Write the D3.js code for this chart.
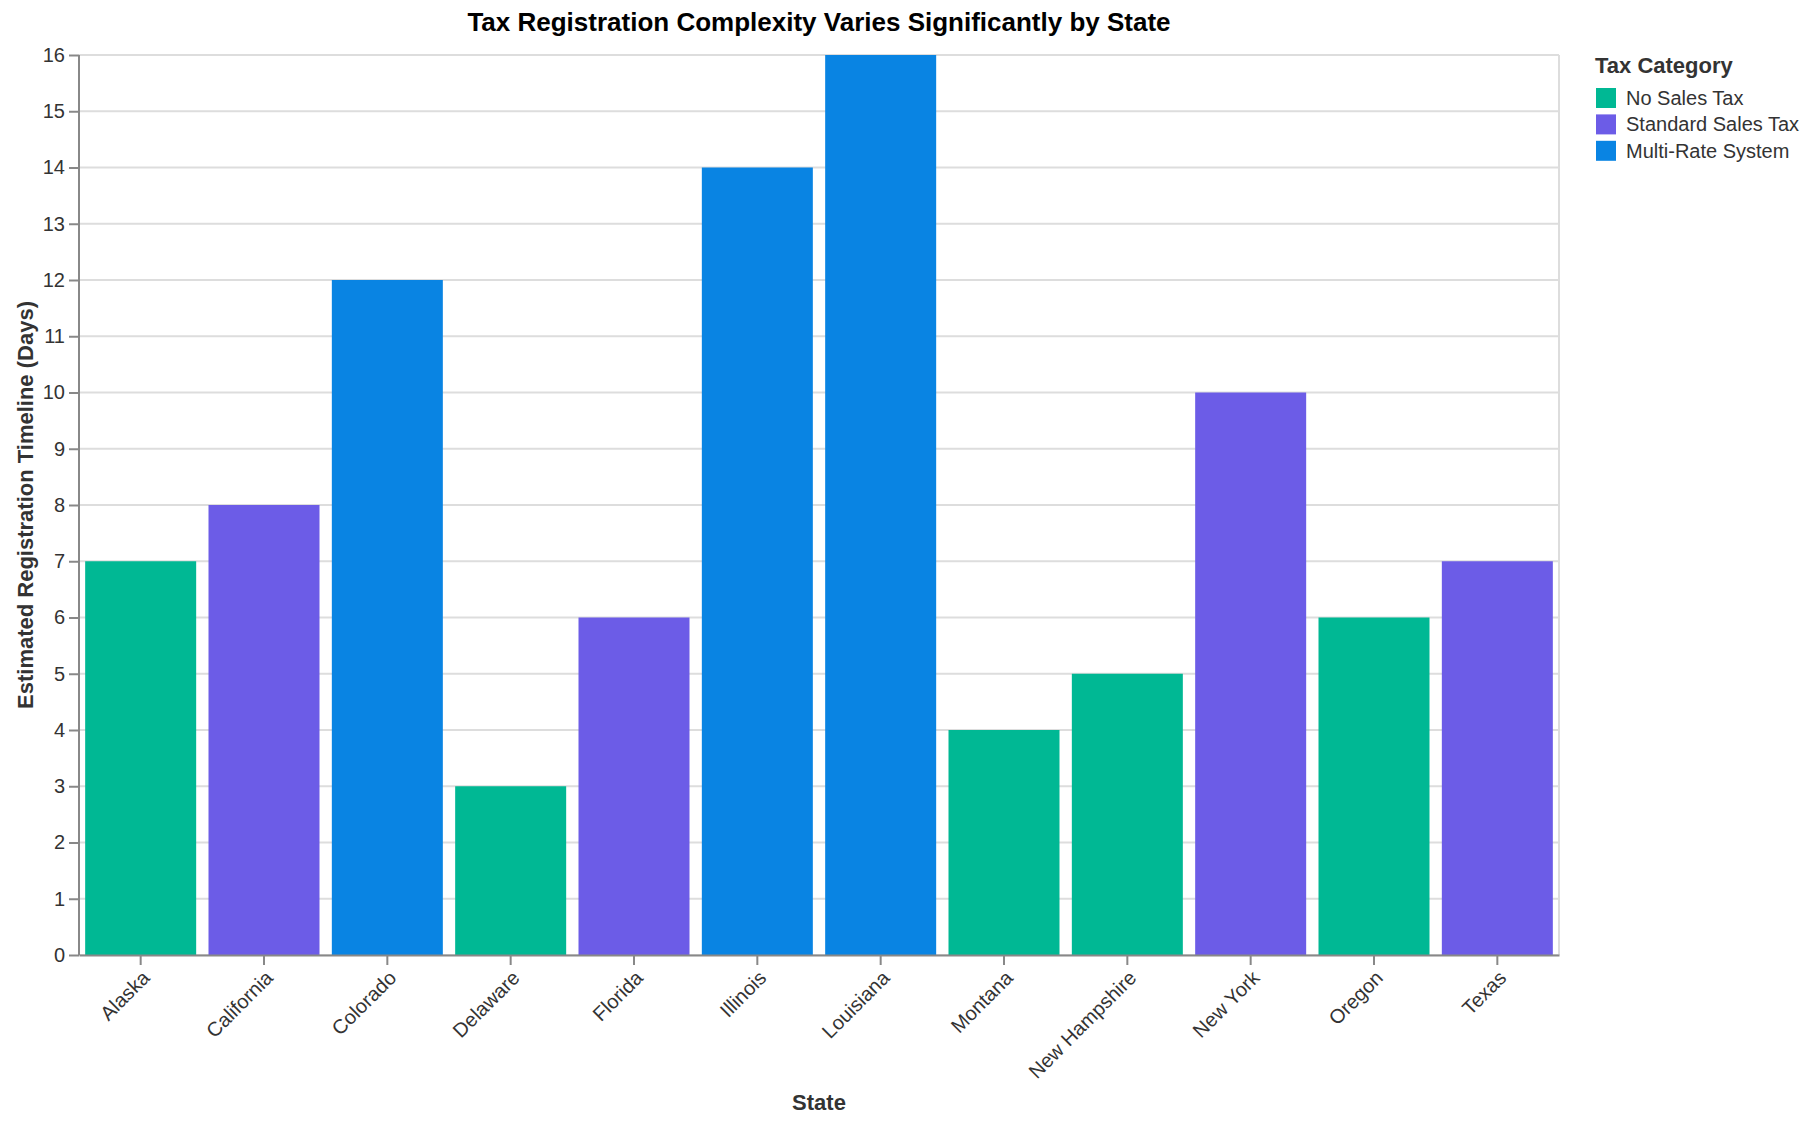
<!DOCTYPE html>
<html>
<head>
<meta charset="utf-8">
<script src="https://cdn.jsdelivr.net/npm/d3@7"></script>
<style>
	body { margin: 0; background: #fff; }
	text { font-family: "Liberation Sans", Arial, Helvetica, sans-serif; }
</style>
</head>
<body>
<div id="chart"></div>
<script>
var states = ["Alaska", "California", "Colorado", "Delaware", "Florida", "Illinois",
	"Louisiana", "Montana", "New Hampshire", "New York", "Oregon", "Texas"];
var days = [7, 8, 12, 3, 6, 14, 16, 4, 5, 10, 6, 7];
var taxCategory = ["No Sales Tax", "Standard Sales Tax", "Multi-Rate System", "No Sales Tax",
	"Standard Sales Tax", "Multi-Rate System", "Multi-Rate System", "No Sales Tax",
	"No Sales Tax", "Standard Sales Tax", "No Sales Tax", "Standard Sales Tax"];
var categories = ["No Sales Tax", "Standard Sales Tax", "Multi-Rate System"];
var categoryColors = ["#00b894", "#6c5ce7", "#0984e3"];
var yTicks = d3.range(0, 17);

function drawBarChart(parent){
	var width = 1810, height = 1124;
	var margin = {top: 55, left: 79},
		plotW = 1480,
		plotH = 900;

	var svg = d3.select(parent).append("svg")
		.attr("width", width)
		.attr("height", height);

	var g = svg.append("g")
		.attr("transform", "translate(" + margin.left + "," + margin.top + ")");

	var x = d3.scaleBand()
		.domain(states)
		.range([0, plotW])
		.paddingInner(0.1)
		.paddingOuter(0.05);

	var y = d3.scaleLinear()
		.domain([0, 16])
		.range([plotH, 0]);

	var colorOf = d3.scaleOrdinal()
		.domain(categories)
		.range(categoryColors);

	//gridlines first so bars sit on top
	g.append("g")
		.selectAll("line")
		.data(yTicks)
	  .enter().append("line")
		.attr("x1", 0)
		.attr("x2", plotW)
		.attr("y1", function(d) { return y(d); })
		.attr("y2", function(d) { return y(d); })
		.attr("stroke", "#ddd")
		.attr("stroke-width", 2);

	g.append("line")
		.attr("x1", plotW).attr("x2", plotW)
		.attr("y1", 0).attr("y2", plotH)
		.attr("stroke", "#ddd")
		.attr("stroke-width", 2);

	g.selectAll(".bar")
		.data(states)
	  .enter().append("rect")
		.attr("class", "bar")
		.attr("x", function(d) { return x(d); })
		.attr("width", x.bandwidth())
		.attr("y", function(d, i) { return y(days[i]); })
		.attr("height", function(d, i) { return plotH - y(days[i]); })
		.style("fill", function(d, i) { return colorOf(taxCategory[i]); });

	var yAxis = d3.axisLeft(y)
		.tickValues(yTicks)
		.tickSize(10)
		.tickPadding(4)
		.tickFormat(d3.format("d"));

	var yg = g.append("g")
		.attr("class", "y axis")
		.call(yAxis);

	var xAxis = d3.axisBottom(x)
		.tickSize(10)
		.tickSizeOuter(0);

	var xg = g.append("g")
		.attr("class", "x axis")
		.attr("transform", "translate(0," + plotH + ")")
		.call(xAxis);

	[yg, xg].forEach(function(ax){
		ax.select(".domain").attr("stroke", "#888").attr("stroke-width", 2);
		ax.selectAll(".tick line").attr("stroke", "#888").attr("stroke-width", 2);
		ax.selectAll(".tick text")
			.attr("fill", "#333")
			.style("font-size", "20px")
			.style("font-family", "'Liberation Sans', Arial, sans-serif");
	});
	yg.select(".domain").attr("d", "M0," + plotH + "V0");

	xg.selectAll(".tick text")
		.attr("y", 0)
		.attr("dy", 0)
		.attr("text-anchor", "end")
		.attr("dominant-baseline", "hanging")
		.attr("transform", "translate(0,14) rotate(-45)");

	//axis titles
	svg.append("text")
		.attr("x", margin.left + plotW / 2)
		.attr("y", 1110)
		.attr("text-anchor", "middle")
		.attr("fill", "#333")
		.style("font-size", "22px")
		.style("font-weight", "bold")
		.text("State");

	svg.append("text")
		.attr("transform", "translate(33," + (margin.top + plotH / 2) + ") rotate(-90)")
		.attr("text-anchor", "middle")
		.attr("fill", "#333")
		.style("font-size", "22px")
		.style("font-weight", "bold")
		.text("Estimated Registration Timeline (Days)");

	svg.append("text")
		.attr("x", margin.left + plotW / 2)
		.attr("y", 31)
		.attr("text-anchor", "middle")
		.attr("fill", "#000")
		.style("font-size", "26px")
		.style("font-weight", "bold")
		.text("Tax Registration Complexity Varies Significantly by State");

	//legend
	var legend = svg.append("g")
		.attr("transform", "translate(1596,0)");

	legend.append("text")
		.attr("x", -1)
		.attr("y", 73)
		.attr("fill", "#333")
		.style("font-size", "22px")
		.style("font-weight", "bold")
		.text("Tax Category");

	var item = legend.selectAll(".item")
		.data(categories)
	  .enter().append("g")
		.attr("class", "item")
		.attr("transform", function(d, i) { return "translate(0," + (88 + i * 26.4) + ")"; });

	item.append("rect")
		.attr("width", 20)
		.attr("height", 20)
		.style("fill", function(d) { return colorOf(d); });

	item.append("text")
		.attr("x", 30)
		.attr("y", 10)
		.attr("dominant-baseline", "central")
		.attr("fill", "#333")
		.style("font-size", "20px")
		.text(function(d) { return d; });
}

drawBarChart("#chart");
</script>
</body>
</html>
